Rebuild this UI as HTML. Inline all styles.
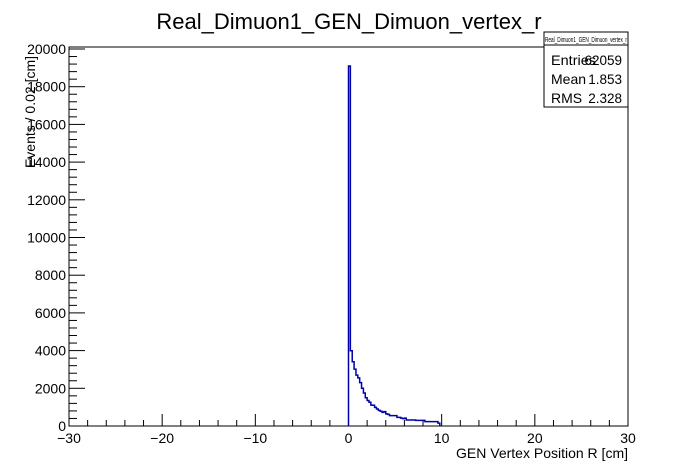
<!DOCTYPE html>
<html><head><meta charset="utf-8"><style>
body{margin:0;background:#fff}
svg{display:block;font-family:"Liberation Sans",sans-serif}
</style></head><body>
<svg id="c" width="698" height="474">
<text x="349" y="29" text-anchor="middle" font-size="22">Real_Dimuon1_GEN_Dimuon_vertex_r</text>
<rect x="69" y="47" width="559" height="379" fill="none" stroke="#000"/>
<g id="ax"></g>
<path id="h" fill="none" stroke="#0000a8" stroke-width="1.5"/>
<text x="628" y="458" text-anchor="end" font-size="14">GEN Vertex Position R [cm]</text>
<text transform="translate(35,112) rotate(-90)" text-anchor="middle" font-size="14">Events / 0.02 [cm]</text>
<g>
<rect x="544" y="32" width="84" height="75" fill="#fff" stroke="#000"/>
<line x1="544" y1="45" x2="628" y2="45" stroke="#000"/>
<text x="586" y="42" text-anchor="middle" font-size="7" textLength="82" lengthAdjust="spacingAndGlyphs">Real_Dimuon1_GEN_Dimuon_vertex_r</text>
<text x="551" y="65" font-size="14" textLength="45" lengthAdjust="spacingAndGlyphs">Entries</text><text x="622" y="65" text-anchor="end" font-size="13.5">62059</text>
<text x="551" y="84" font-size="14">Mean</text><text x="622" y="84" text-anchor="end" font-size="13.5">1.853</text>
<text x="551" y="103" font-size="14">RMS</text><text x="622" y="103" text-anchor="end" font-size="13.5">2.328</text>
</g>
</svg>
<script>
const binStart=0, binWidth=0.2;
const counts=[19100,3990,3410,3020,2700,2550,2300,2000,1750,1500,1350,1260,1110,1100,990,900,830,780,720,760,640,620,550,550,550,550,460,460,420,390,420,320,320,320,320,320,300,300,300,300,300,230,230,230,230,230,230,230,150];
const xTicks=[-30,-20,-10,0,10,20,30];
const yTicks=[0,2000,4000,6000,8000,10000,12000,14000,16000,18000,20000];
const X=v=>69+(v+30)*559/60;
const Y=v=>426-v*377/20000;
const ns='http://www.w3.org/2000/svg';
const ax=document.getElementById('ax');
function mk(t,a,txt){const e=document.createElementNS(ns,t);for(const k in a)e.setAttribute(k,a[k]);if(txt!==undefined)e.textContent=txt;ax.appendChild(e);return e;}
for(let v=-30;v<=30;v+=2){const big=v%10===0;
const l=mk('line',{x1:X(v),x2:X(v),y1:426,y2:426-(big?12:6),stroke:'#000'});

}
xTicks.forEach(v=>{const t=mk('text',{x:X(v),y:443,'text-anchor':'middle','font-size':14},(v<0?'\u2212'+(-v):v));

});
for(let v=0;v<=20000;v+=400){const big=v%2000===0;
const l=mk('line',{x1:69,x2:69+(big?16:8),y1:Y(v),y2:Y(v),stroke:'#000'});

}
yTicks.forEach(v=>{const t=mk('text',{x:66,y:Y(v)+5,'text-anchor':'end','font-size':14},v);

});
let d='M'+X(binStart)+','+Y(0);
counts.forEach((c,i)=>{const a=X(binStart+i*binWidth),b=X(binStart+(i+1)*binWidth);d+=' L'+a+','+Y(c)+' L'+b+','+Y(c);});
d+=' L'+X(binStart+counts.length*binWidth)+','+Y(0);
document.getElementById('h').setAttribute('d',d);
</script>
</body></html>
